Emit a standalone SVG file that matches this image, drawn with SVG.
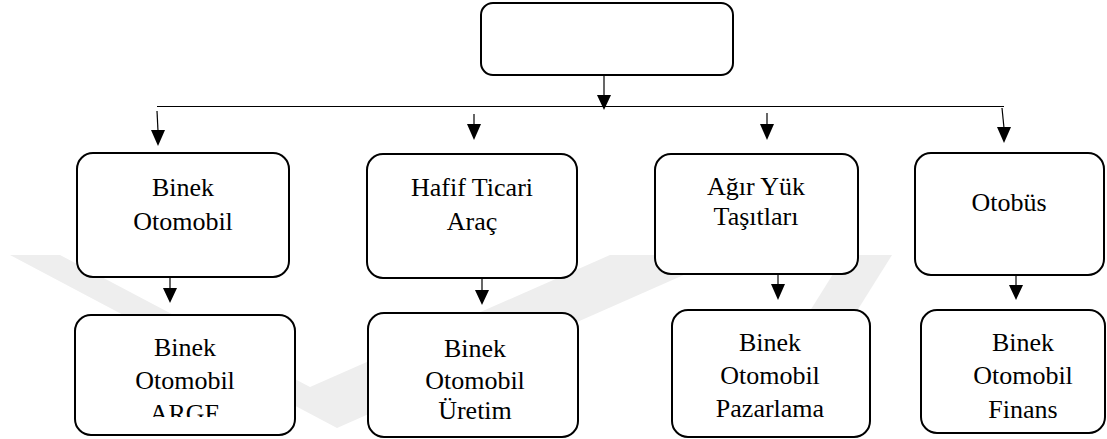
<svg xmlns="http://www.w3.org/2000/svg" width="1107" height="439" viewBox="0 0 1107 439">
  <style>
    .box { fill: #ffffff; stroke: #000000; stroke-width: 2; }
    .wire { stroke: #000000; stroke-width: 1.2; fill: none; }
    .head { fill: #000000; stroke: none; }
    .lbl { font-family: 'Liberation Serif', 'DejaVu Serif', serif; font-size: 26px; fill: #000000; text-anchor: middle; }
    .wm { fill: #eeeeee; stroke: none; }
  </style>
  <defs>
    <clipPath id="clipArge">
      <rect x="75" y="315" width="220" height="102"/>
    </clipPath>
  </defs>
  <rect x="0" y="0" width="1107" height="439" fill="#ffffff"/>
  <g id="watermark">
    <polygon class="wm" points="10,255 60,255 310,387 610,255 729,255 337,428"/>
    <polygon class="wm" points="845,255 892,255 850,322 803,322"/>
  </g>
  <g id="connectors">
    <line class="wire" x1="604" y1="76" x2="604" y2="96"/>
    <polygon class="head" points="597,95 611,95 604,110"/>
    <line class="wire" x1="157" y1="106.5" x2="1004" y2="106.5"/>
    <line class="wire" x1="157" y1="111" x2="158" y2="131"/>
    <polygon class="head" points="151,130 165,130 158,146"/>
    <line class="wire" x1="474" y1="114" x2="474" y2="125"/>
    <polygon class="head" points="467,124 481,124 474,140"/>
    <line class="wire" x1="767" y1="113" x2="767" y2="125"/>
    <polygon class="head" points="760,124 774,124 767,140"/>
    <line class="wire" x1="1002" y1="108" x2="1004" y2="128"/>
    <polygon class="head" points="997,127 1011,127 1004,143"/>
    <line class="wire" x1="170" y1="277" x2="170" y2="289"/>
    <polygon class="head" points="163,288 177,288 170,303"/>
    <line class="wire" x1="482" y1="278" x2="482" y2="291"/>
    <polygon class="head" points="475,290 489,290 482,305"/>
    <line class="wire" x1="778" y1="274" x2="778" y2="285"/>
    <polygon class="head" points="771,284 785,284 778,300"/>
    <line class="wire" x1="1016" y1="275" x2="1016" y2="286"/>
    <polygon class="head" points="1009,285 1023,285 1016,300"/>
  </g>
  <g id="root">
    <rect class="box" x="481" y="3" width="252" height="72" rx="12"/>
  </g>
  <g id="binek-otomobil">
    <rect class="box" x="77" y="153" width="212" height="124" rx="16"/>
    <text class="lbl" x="183" y="196">Binek</text>
    <text class="lbl" x="183" y="230">Otomobil</text>
  </g>
  <g id="hafif-ticari">
    <rect class="box" x="367" y="154" width="210" height="124" rx="16"/>
    <text class="lbl" x="472" y="196">Hafif Ticari</text>
    <text class="lbl" x="472" y="230">Araç</text>
  </g>
  <g id="agir-yuk">
    <rect class="box" x="655" y="154" width="203" height="120" rx="16"/>
    <text class="lbl" x="756" y="195">Ağır Yük</text>
    <text class="lbl" x="756" y="225">Taşıtları</text>
  </g>
  <g id="otobus">
    <rect class="box" x="915" y="153" width="189" height="122" rx="16"/>
    <text class="lbl" x="1009" y="211">Otobüs</text>
  </g>
  <g id="arge">
    <rect class="box" x="75" y="315" width="220" height="120" rx="16"/>
    <text class="lbl" x="185" y="356">Binek</text>
    <text class="lbl" x="185" y="389">Otomobil</text>
    <text class="lbl" x="185" y="422" clip-path="url(#clipArge)">ARGE</text>
  </g>
  <g id="uretim">
    <rect class="box" x="368" y="313" width="210" height="124" rx="16"/>
    <text class="lbl" x="475" y="357">Binek</text>
    <text class="lbl" x="475" y="389">Otomobil</text>
    <text class="lbl" x="475" y="419">Üretim</text>
  </g>
  <g id="pazarlama">
    <rect class="box" x="672" y="310" width="198" height="127" rx="16"/>
    <text class="lbl" x="770" y="351">Binek</text>
    <text class="lbl" x="770" y="384">Otomobil</text>
    <text class="lbl" x="770" y="417">Pazarlama</text>
  </g>
  <g id="finans">
    <rect class="box" x="921" y="310" width="184" height="123" rx="16"/>
    <text class="lbl" x="1023" y="351">Binek</text>
    <text class="lbl" x="1023" y="384">Otomobil</text>
    <text class="lbl" x="1023" y="418">Finans</text>
  </g>
</svg>
